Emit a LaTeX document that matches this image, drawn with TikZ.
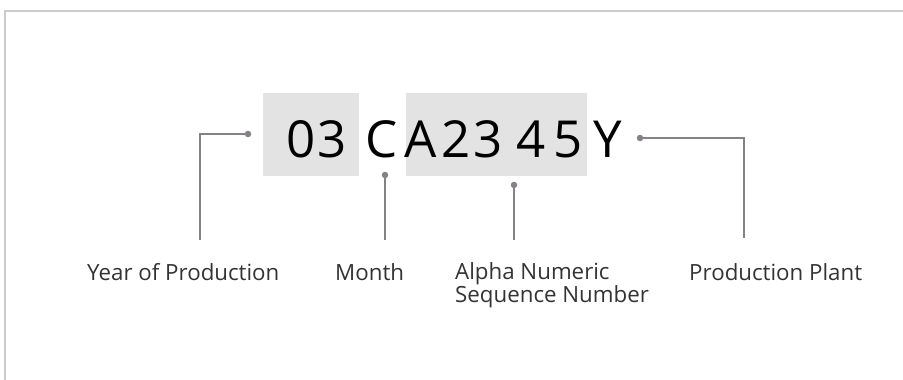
\documentclass[tikz,border=0pt]{standalone}
\usepackage{fontspec}
\setmainfont{Open Sans}
\usetikzlibrary{calc}
\definecolor{framegray}{HTML}{CCCCCC}
\definecolor{boxgray}{HTML}{E3E3E3}
\definecolor{leadgray}{HTML}{858285}
\definecolor{labelgray}{HTML}{333333}
\tikzset{
  codebox/.style={fill=boxgray, draw=none},
  codechar/.style={anchor=base, inner sep=0pt, font=\fontsize{51}{51}\selectfont, text=black},
  leader/.style={draw=leadgray, line width=1.5pt},
  leaddot/.style={circle, fill=leadgray, inner sep=0pt, minimum size=6.5pt},
  partlabel/.style={anchor=base west, inner sep=0pt, align=left, text=labelgray,
    font=\fontsize{22.3}{23.5}\selectfont}
}

\begin{document}
\begin{tikzpicture}[x=1pt,y=-1pt]
		%%%%% FRAME %%%%%
		\useasboundingbox (0,0) rectangle (903,380);
		\draw[framegray, line width=2.3pt] (903,11) -- (5,11) -- (5,380);
		
		%%%%% CODE %%%%%
		\fill[boxgray] (262.7,92.7) rectangle (359,176);
		\fill[boxgray] (406,92.7) rectangle (586.7,176);
		\foreach \ch/\xc [count=\i] in {0/301,3/332.5,C/381.5,A/420.5,2/456.5,3/488.5,4/531,5/568.5,Y/607.5}
			\node[codechar] (c\i) at (\xc,157) {\ch};
		
		%%%%% DOTS %%%%%
		\node[leaddot] (dyear) at (248,134) {};
		\node[leaddot] (dmonth) at (385,175) {};
		\node[leaddot] (dseq) at (514,185) {};
		\node[leaddot] (dplant) at (640,138) {};
		
		\coordinate (eyear) at (200,240);
		\coordinate (emonth) at (385,240);
		\coordinate (eseq) at (514,240);
		\coordinate (eplant) at (744,238);
		
		\draw[leader] (dyear.center) -| (eyear);
		\draw[leader] (dmonth.center) -- (emonth);
		\draw[leader] (dseq.center) -- (eseq);
		\draw[leader] (dplant.center) -| (eplant);
		
		%%%%% LABELS %%%%%
		\node[partlabel] (lyear) at (87,280) {Year of Production};
		\node[partlabel] (lmonth) at (335,280) {Month};
		\node[partlabel] (lseq) at (455,302.7) {Alpha Numeric\\Sequence Number};
		\node[partlabel] (lplant) at (689,280) {Production Plant};
		
		%%%%% END %%%%%
	\end{tikzpicture}
\end{document}
